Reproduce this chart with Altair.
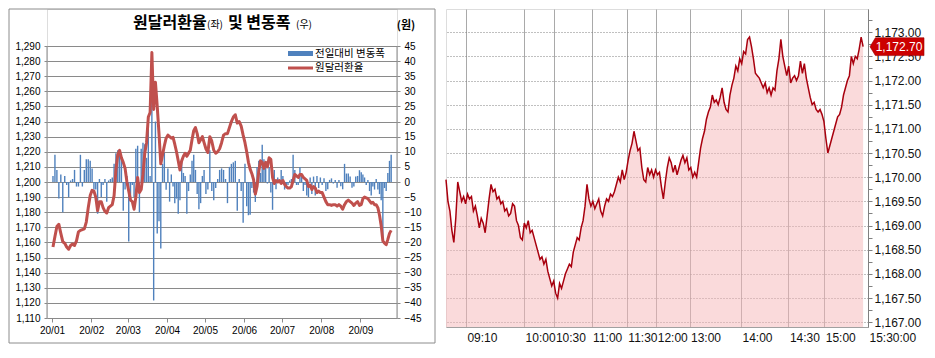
import altair as alt
import pandas as pd

# ---------------- left panel: daily USD/KRW 2020 ----------------
month_labels = ["20/01", "20/02", "20/03", "20/04", "20/05", "20/06", "20/07", "20/08", "20/09"]
month_start = [0, 31, 60, 91, 121, 152, 182, 213, 244]
month_end = [31, 60, 91, 121, 152, 182, 213, 244, 269]

rate_jan = [1157, 1164, 1170.5, 1172, 1166, 1160.5, 1159.5, 1157, 1155.5, 1158,
            1159, 1158, 1161, 1167, 1168, 1168.5, 1169, 1173.5, 1183, 1191]
rate_feb = [1194.5, 1194, 1190, 1181, 1187, 1187, 1183, 1180.5, 1179.5, 1183,
            1184, 1185, 1191, 1208, 1218, 1221, 1216, 1213, 1209, 1200]
rate_mar = [1194, 1188, 1187, 1182, 1190, 1203, 1193, 1195, 1205, 1219,
            1226, 1243, 1246, 1285.7, 1248, 1266, 1250, 1232, 1212, 1218, 1224, 1229]
rate_apr = [1231, 1230, 1229, 1229.5, 1225, 1220, 1214, 1208, 1214, 1217,
            1219, 1217, 1219, 1221, 1228, 1234, 1236, 1232, 1226, 1228, 1230, 1226]
rate_may = [1222, 1219.5, 1230, 1227, 1221, 1219, 1220, 1222, 1226, 1231,
            1232, 1232, 1236, 1240, 1243, 1244.5, 1239, 1240, 1237, 1231]
rate_jun = [1226, 1220, 1213, 1208.5, 1205.5, 1201.5, 1192, 1197, 1207, 1214,
            1213, 1209, 1213, 1210, 1216, 1215, 1203, 1199, 1201, 1200, 1201, 1199]
rate_jul = [1201, 1198.5, 1197, 1196, 1196, 1197, 1201, 1205, 1204, 1203,
            1205, 1205, 1203, 1202, 1201, 1197, 1198, 1195, 1197, 1196, 1193, 1194, 1193]
rate_aug = [1193, 1190, 1187, 1185, 1185, 1184.5, 1185, 1185, 1184, 1185,
            1184, 1182, 1185, 1187, 1188, 1187, 1186, 1184.5, 1186, 1187, 1184.5]
rate_sep = [1185, 1189, 1190, 1189.5, 1189, 1187.5, 1186, 1186.5, 1185, 1185,
            1183, 1178, 1171, 1161, 1159.5, 1158.5, 1162, 1166, 1168]

chg_jan = [2, 9, 4, -5.5, 2.5, -10, 2, -1, -5, 0.5, 1, 4, -1.5, -1.5, 9, -1.5, 4, 7.5, 7.5, 7]
chg_feb = [4.5, -2.5, -2.5, -10.5, 1, -5, -1, 1, -6.5, 0.5, 1, 1.5, 6, 9.5, 10.5, 10, 8, -9.5, -2.5, 2]
chg_mar = [-19.7, -6, -1, -5, 11, 12, -10, 11, 13, 12.5, 8, 21, 2, 40, -39.2, 20, -17, -13, -22, 6, 9.7, -2.6]
chg_apr = [4.5, -6.5, 2.5, -1.5, -7, -5.5, -10.5, -6, 7, 3, 2, -10.5, -3, 2.5, 7, 9, 4, -4, -9, -7, 2, 4]
chg_may = [-4, -2.5, 10.5, -3, -6, -2, 1, 4, 4.5, 4, 1, -7, 5, 6, 6.5, 7, -9.5, 1, -3, -13.5]
chg_jun = [6, -8, -11, -10.8, -2, -3.5, -6.6, 5, 7, 3, 12.3, 7.5, 5.5, -0.5, 5, -3.5, -9.2, 4, -2.4, 1.5, 0.5, 4]
chg_jul = [2, -2.5, -1.5, -1, 0.5, 1, 9, 4, -1, -1, 5, 2.5, -3, -1, -4.5, -5, 1.5, -4, 1.8, -4.5, 2, -2, 1.5]
chg_aug = [-1, 1.2, -3, -2.4, 0.7, 1.2, -0.5, 0.7, -1.9, 0.7, -1.4, -2.4, 6, 2.8, 2.8, 1.8, -1.9, -1.5, 1.8, 2, 3.9]
chg_sep = [3.2, 2.5, 1.5, -1, 0.7, -3, -4.5, -1.5, -2.5, 1, -2.5, -4, -6, -20, -2, -3, 3, 7, 9]

rates_by_month = [rate_jan, rate_feb, rate_mar, rate_apr, rate_may, rate_jun, rate_jul, rate_aug, rate_sep]
chg_by_month = [chg_jan, chg_feb, chg_mar, chg_apr, chg_may, chg_jun, chg_jul, chg_aug, chg_sep]

rows = []
for m, (rs, cs) in enumerate(zip(rates_by_month, chg_by_month)):
    n = len(rs)
    span = month_end[m] - month_start[m]
    for i, (r, c) in enumerate(zip(rs, cs)):
        rows.append({"day": month_start[m] + (i + 0.5) * span / n, "rate": r, "chg": c})
daily = pd.DataFrame(rows)

# ---------------- right panel: intraday ticks ----------------
intraday_morning = [
    1169.95, 1169.5, 1169.3, 1168.9, 1168.65, 1169.15, 1169.9, 1169.7, 1169.5, 1169.6,
    1169.45, 1169.65, 1169.55, 1169.6, 1169.3, 1169.4, 1169.2, 1168.95, 1169.15, 1169.05,
    1168.85, 1169.2, 1169.55, 1169.85, 1169.7, 1169.75, 1169.55, 1169.6, 1169.45, 1169.5,
    1169.3, 1169.35, 1169.2, 1169.25, 1169.45, 1169.4, 1169.1, 1169.0, 1168.75, 1168.7,
    1169.05, 1168.95, 1169.1, 1168.85, 1168.9, 1168.75, 1168.6, 1168.45, 1168.3, 1168.35,
    1168.2, 1168.3, 1168.05, 1167.9, 1167.75, 1167.85, 1167.6, 1167.5, 1167.8, 1167.7,
    1167.85, 1168.0, 1168.1, 1168.2, 1168.15, 1168.45, 1168.6, 1168.75, 1168.7, 1168.95,
]
intraday_midday = [
    1169.1, 1169.4, 1169.85, 1169.55, 1169.4, 1169.5, 1169.35, 1169.45, 1169.55, 1169.3,
    1169.2, 1169.4, 1169.55, 1169.5, 1169.65, 1169.6, 1169.7, 1169.85, 1170.0, 1169.9,
    1170.15, 1169.95, 1170.1, 1170.35, 1170.55, 1170.7, 1170.95, 1170.75, 1170.55, 1170.6,
    1170.2, 1169.95, 1169.9, 1170.2, 1170.05, 1170.15, 1170.0, 1170.15, 1170.05, 1170.1,
    1169.8, 1169.55, 1169.9, 1170.2, 1170.4, 1170.3, 1170.1, 1170.25, 1170.05, 1170.2,
    1170.35, 1170.45, 1170.3, 1170.4, 1170.15, 1170.2, 1170.0, 1170.1, 1170.0, 1170.3,
    1170.6, 1170.8, 1170.95, 1171.2, 1171.35, 1171.45, 1171.7, 1171.55, 1171.6, 1171.5,
]
intraday_afternoon = [
    1171.65, 1171.85, 1171.55, 1171.4, 1171.35, 1171.7, 1171.9, 1172.05, 1172.3, 1172.2,
    1172.45, 1172.35, 1172.6, 1172.55, 1172.85, 1172.9, 1172.7, 1172.45, 1172.15, 1172.1,
    1172.05, 1171.95, 1171.85, 1171.95, 1171.75, 1171.85, 1171.7, 1171.85, 1171.8, 1172.2,
    1172.45, 1172.85, 1172.5, 1172.3, 1172.1, 1172.3, 1171.95, 1172.05, 1172.1, 1172.0,
    1172.1, 1172.4, 1172.15, 1172.35, 1172.05, 1171.85, 1171.65, 1171.5, 1171.55, 1171.4,
    1171.35, 1171.4, 1171.3, 1171.15, 1170.8, 1170.5, 1170.65, 1170.8, 1170.95, 1171.1,
    1171.25, 1171.3, 1171.45, 1171.7, 1171.85, 1172.0, 1172.1, 1172.5, 1172.35, 1172.5,
    1172.45, 1172.65, 1172.9, 1172.7,
]
current_price = 1172.70
time_labels = ["09:10", "10:00", "10:30", "11:00", "11:30", "12:00", "13:00", "14:00", "14:30", "15:00", "15:30:00"]
time_pos = [20.3, 79.7, 110.7, 148.7, 184.7, 214.7, 248.7, 301.3, 349.7, 386.3, 431]
tick_span = 431
tick_step = 2

prices = intraday_morning + intraday_midday + intraday_afternoon
intra = pd.DataFrame({"t": [i * tick_step for i in range(len(prices))], "p": prices})

# ---------------- styling ----------------
FONT = "Liberation Sans"
KFONT = "Noto Sans CJK KR"
GRID = "#8a8a8a"
BLUE = "#4f81bd"
RED = "#c0504d"

month_expr = " : ".join(f"datum.value == {d} ? '{l}'" for d, l in zip(month_start, month_labels)) + " : ''"
time_expr = " : ".join(f"datum.value == {p} ? '{l}'" for p, l in zip(time_pos, time_labels)) + " : ''"

# left plot: data region is DATA_H tall, with TOP px of header room inside the plot
WL, DATA_H, TOP = 350, 272, 37
HL = DATA_H + TOP
RATE_MIN, RATE_MAX = 1110, 1290
CHG_MIN, CHG_MAX = -45, 45
rate_top = RATE_MAX + TOP * (RATE_MAX - RATE_MIN) / DATA_H
chg_top = CHG_MAX + TOP * (CHG_MAX - CHG_MIN) / DATA_H

x_day = alt.X(
    "day:Q",
    scale=alt.Scale(domain=[0, month_end[-1]], nice=False, zero=False),
    axis=alt.Axis(values=month_start, labelExpr=month_expr, title=None, grid=False,
                  domainColor=GRID, tickColor=GRID, tickSize=4, labelFlush=False,
                  labelOverlap=False, labelFont=FONT, labelFontSize=10, labelColor="#000",
                  labelPadding=3),
)

bars = alt.Chart(daily).mark_bar(color=BLUE, size=1.4).encode(
    x=x_day,
    y=alt.Y("chg:Q", scale=alt.Scale(domain=[CHG_MIN, chg_top], nice=False),
            axis=alt.Axis(orient="right", values=list(range(CHG_MIN, CHG_MAX + 5, 5)), grid=False,
                          title=None, domain=False, tickColor=GRID, tickSize=3, labelFont=FONT,
                          labelFontSize=10, labelColor="#000", labelPadding=4)),
)

line = alt.Chart(daily).mark_line(color=RED, strokeWidth=3, strokeJoin="round").encode(
    x=x_day,
    y=alt.Y("rate:Q", scale=alt.Scale(domain=[RATE_MIN, rate_top], nice=False, zero=False),
            axis=alt.Axis(orient="left", values=list(range(RATE_MIN, RATE_MAX + 10, 10)),
                          format=",.0f", grid=True, gridColor=GRID, gridWidth=1, title=None,
                          domain=False, tickColor=GRID, tickSize=3, labelFont=FONT,
                          labelFontSize=10, labelColor="#000", labelPadding=4)),
)

one = pd.DataFrame({"k": [0]})


def txt(text, x, y, size, weight="normal", align="left", font=KFONT, color="#000"):
    return alt.Chart(one).mark_text(text=text, align=align, baseline="middle", fontSize=size,
                                    fontWeight=weight, font=font, color=color).encode(
        x=alt.value(x), y=alt.value(y))


axis_left = alt.Chart(one).mark_rule(color=GRID).encode(
    x=alt.value(0), y=alt.value(TOP), y2=alt.value(HL))
axis_right = alt.Chart(one).mark_rule(color=GRID).encode(
    x=alt.value(WL), y=alt.value(TOP), y2=alt.value(HL))

border = alt.Chart(one).mark_rect(fillOpacity=0, stroke="#8c8c8c", strokeWidth=1).encode(
    x=alt.value(-38), x2=alt.value(388), y=alt.value(0), y2=alt.value(HL + 25))

title_parts = [
    txt("원달러환율", 86, 14, 16, "bold"),
    txt("(좌)", 160, 16, 10),
    txt("및 변동폭", 181, 14, 16, "bold"),
    txt("(우)", 249, 16, 10),
    txt("(원)", 359, 17, 11, "bold", align="center"),
]

leg_bar = alt.Chart(one).mark_rect(color=BLUE).encode(
    x=alt.value(241), x2=alt.value(266), y=alt.value(TOP + 5), y2=alt.value(TOP + 10))
leg_line = alt.Chart(one).mark_rule(color=RED, strokeWidth=3).encode(
    x=alt.value(241), x2=alt.value(266), y=alt.value(TOP + 22))
leg_texts = [txt("전일대비 변동폭", 268, TOP + 7.5, 10.5), txt("원달러환율", 268, TOP + 22, 10.5)]

left = alt.layer(bars, line, axis_left, axis_right, border, leg_bar, leg_line,
                 *leg_texts, *title_parts).resolve_scale(y="independent").properties(
    width=WL, height=HL)

# ---------------- right chart ----------------
WR, HR = 422, 318
YMIN, YMAX = 1166.9, 1173.48
yvals = [1167 + 0.25 * k for k in range(26)]

x_t = alt.X("t:Q", scale=alt.Scale(domain=[0, tick_span], nice=False, zero=False),
            axis=alt.Axis(values=time_pos, labelExpr=time_expr, title=None, grid=True,
                          gridColor="#a9a9a9", ticks=False, domainColor="#a0a0a0",
                          labelAlign="left", labelFlush=False, labelOverlap=False, labelOffset=1,
                          labelPadding=5, labelFont=FONT, labelFontSize=12, labelColor="#111"))
y_p = alt.Y("p:Q", scale=alt.Scale(domain=[YMIN, YMAX], nice=False, zero=False),
            axis=alt.Axis(orient="right", values=yvals, title=None,
                          labelExpr="datum.value % 0.5 === 0 ? format(datum.value, ',.2f') : ''",
                          grid=True, gridDash=[1, 2], gridColor="#808080",
                          gridOpacity={"condition": {"test": "datum.value % 0.5 !== 0", "value": 0},
                                       "value": 1},
                          tickSize=4, tickColor="#808080", domainColor="#808080",
                          labelFont=FONT, labelFontSize=12, labelColor="#111", labelPadding=2))

area = alt.Chart(intra).mark_area(color="#f5b5b8", opacity=0.5).encode(
    x=x_t, y=y_p, y2=alt.datum(YMIN))
pline = alt.Chart(intra).mark_line(color="#a8000e", strokeWidth=1.5).encode(x=x_t, y=y_p)

BADGE = "M-1,0L-0.8,-0.33L1,-0.33L1,0.33L-0.8,0.33Z"
cur = pd.DataFrame({"p": [current_price]})
badge = alt.Chart(cur).mark_point(shape=BADGE, size=54 * 54, filled=True, fill="#cc0000",
                                  stroke="#990000", strokeWidth=0.6, opacity=1).encode(
    x=alt.value(WR + 2 + 27), y=y_p)
badge_txt = alt.Chart(cur).mark_text(color="white", fontSize=12, font=FONT, align="center",
                                     baseline="middle").encode(
    x=alt.value(WR + 2 + 29), y=y_p, text=alt.Text("p:Q", format=",.2f"))

right = alt.layer(area, pline, badge, badge_txt).properties(width=WR, height=HR)

chart = alt.hconcat(left, right, spacing=6).properties(padding=0).configure_view(
    strokeWidth=0).configure(font=FONT)

chart.save("out.html", embed_options={"renderer": "svg", "actions": False})
